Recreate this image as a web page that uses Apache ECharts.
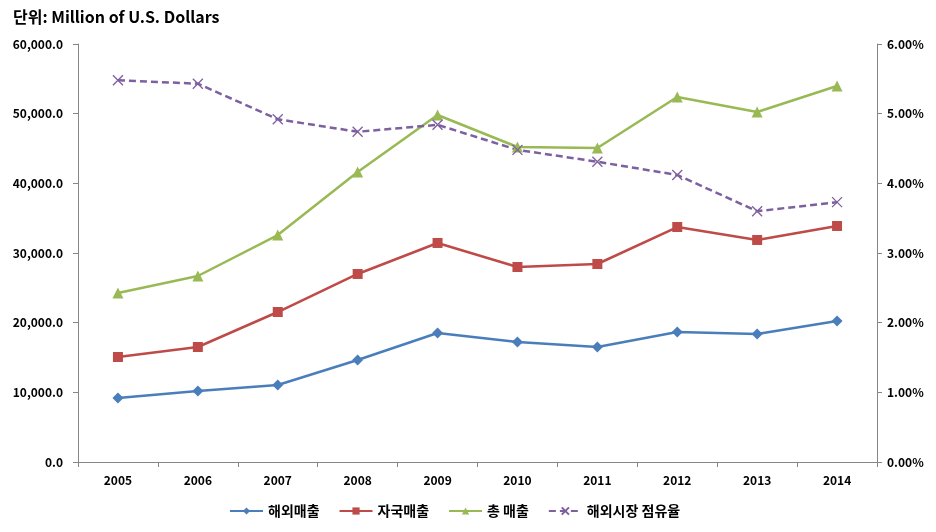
<!DOCTYPE html>
<html><head><meta charset="utf-8">
<script src="https://cdn.jsdelivr.net/npm/echarts@6/dist/echarts.min.js"></script>
<style>html,body{margin:0;padding:0;background:#fff}#c{width:936px;height:532px}</style>
</head><body><div id="c"></div>
<script>
const years = ['2005','2006','2007','2008','2009','2010','2011','2012','2013','2014'];
const overseasSales = [9190, 10190, 11050, 14640, 18520, 17220, 16510, 18660, 18370, 20240];
const domesticSales = [15070, 16510, 21530, 26990, 31440, 27990, 28420, 33730, 31870, 33880];
const totalSales = [24260, 26700, 32580, 41630, 49810, 45220, 45070, 52390, 50240, 53970];
const overseasShare = [5.48, 5.43, 4.92, 4.74, 4.84, 4.48, 4.31, 4.12, 3.60, 3.73];
const seriesNames = ['해외매출', '자국매출', '총 매출', '해외시장 점유율'];

const FONT = '"Noto Sans CJK KR", "Noto Sans", sans-serif';
const axisLineStyle = {show: true, lineStyle: {color: '#868686', width: 1}};
const chart = echarts.init(document.getElementById('c'));
const xSym = 'path://M0,0L10,10M10,0L0,10';
chart.setOption({
  animation: false,
  textStyle: {fontFamily: FONT},
  title: {
    text: '단위: Million of U.S. Dollars', left: 8, top: 4,
    textStyle: {fontFamily: FONT, fontSize: 16, fontWeight: 'bold', color: '#000'}
  },
  grid: {left: 78, right: 59, top: 44, bottom: 70, containLabel: false},
  legend: {
    bottom: 9, left: 224, itemWidth: 33, itemHeight: 9, itemGap: 19,
    textStyle: {fontFamily: FONT, fontSize: 14, fontWeight: 'bold', color: '#000'},
    data: seriesNames
  },
  xAxis: {
    type: 'category', data: years, boundaryGap: true,
    axisLine: axisLineStyle,
    axisTick: {show: true, inside: false, length: 5, lineStyle: {color: '#868686'}},
    axisLabel: {fontFamily: FONT, fontSize: 12, fontWeight: 'bold', color: '#000', margin: 12}
  },
  yAxis: [{
    type: 'value', min: 0, max: 60000, interval: 10000,
    axisLine: axisLineStyle,
    axisTick: {show: true, inside: false, length: 5, lineStyle: {color: '#868686'}},
    splitLine: {show: false},
    axisLabel: {fontFamily: FONT, fontSize: 12, fontWeight: 'bold', color: '#000', margin: 15,
      formatter: v => v.toLocaleString('en-US', {minimumFractionDigits: 1, maximumFractionDigits: 1})}
  }, {
    type: 'value', min: 0, max: 6, interval: 1, position: 'right',
    axisLine: axisLineStyle,
    axisTick: {show: true, inside: false, length: 5, lineStyle: {color: '#868686'}},
    splitLine: {show: false},
    axisLabel: {fontFamily: FONT, fontSize: 12, fontWeight: 'bold', color: '#000', margin: 10,
      formatter: v => v.toFixed(2) + '%'}
  }],
  series: [{
    name: seriesNames[0], type: 'line', data: overseasSales, yAxisIndex: 0,
    symbol: 'diamond', symbolSize: 11,
    lineStyle: {color: '#4A7EBB', width: 2.5}, itemStyle: {color: '#4A7EBB'}
  }, {
    name: seriesNames[1], type: 'line', data: domesticSales, yAxisIndex: 0,
    symbol: 'rect', symbolSize: 10,
    lineStyle: {color: '#BE4B48', width: 2.5}, itemStyle: {color: '#BE4B48'}
  }, {
    name: seriesNames[2], type: 'line', data: totalSales, yAxisIndex: 0,
    symbol: 'triangle', symbolSize: 11,
    lineStyle: {color: '#98B954', width: 2.5}, itemStyle: {color: '#98B954'}
  }, {
    name: seriesNames[3], type: 'line', data: overseasShare, yAxisIndex: 1,
    symbol: xSym, symbolSize: 10,
    lineStyle: {color: '#7D60A0', width: 2.5, type: [7, 4]},
    itemStyle: {color: '#7D60A0', borderColor: '#7D60A0', borderWidth: 1.3}
  }]
});
</script></body></html>
